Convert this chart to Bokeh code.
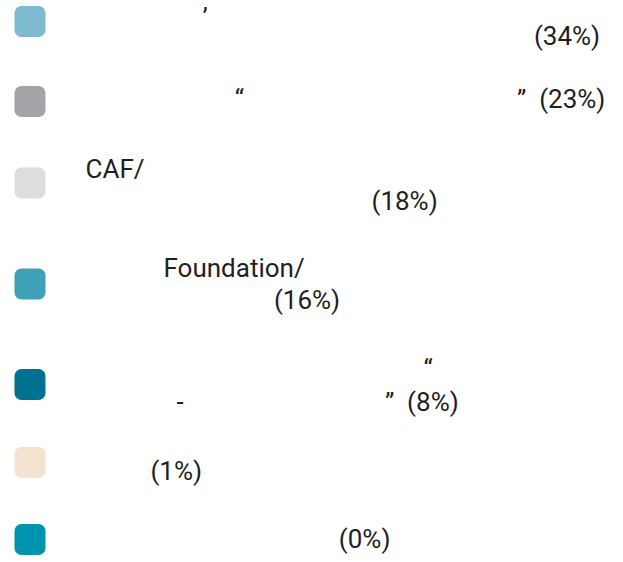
from bokeh.plotting import figure
from bokeh.models import ColumnDataSource, Range1d
from bokeh.core.properties import value
from bokeh.embed import file_html
from bokeh.resources import INLINE

IS = "\u3000"  # stands in for each Chinese character that the reference did not render
S = "\u00a0"   # non-collapsing space

# ---- data ----
names = [
    IS * 4 + S * 2 + "\u2019" + IS * 13 + "\n" + IS * 17 + S,
    IS * 5 + S * 3 + "\u201c" + IS * 10 + S * 2 + "\u201d" + S * 2,
    "CAF/" + IS * 14 + "\n" + IS * 11,
    IS * 3 + "Foundation/" + IS * 5 + "\n" + IS * 7 + S,
    IS * 13 + "\u201c" + IS * 4 + "\n" + IS * 3 + S * 2 + "-" + IS * 7 + S * 3 + "\u201d" + S * 2,
    IS * 2 + S * 2,
    IS * 9 + S * 3,
]
shares = [34, 23, 18, 16, 8, 1, 0]
colors = ["#7fbad0", "#a3a4a8", "#dcdddf", "#3fa0b8", "#007290", "#f5e3d1", "#0093ad"]

labels = [f"{n}({s}%)" for n, s in zip(names, shares)]
line_counts = [lab.count("\n") + 1 for lab in labels]

# ---- layout (styles) ----
W, H = 623, 562
line_px = [20, 33, 33, 33, 34, 33, 33]     # line spacing per legend entry (fallback fonts differ)
text_nudge = [3, -3, -1, -3, -3, -3, -3]   # fine vertical alignment of each text block
swatch_nudge = [1, 3, 0, 0, -1, -8, 1]     # fine vertical alignment of each swatch
LINE_H = 30        # height of one text line
GAP = 38           # gap between consecutive entries
FIRST = 23         # centre of the first entry's text block
heights = [LINE_H + (n - 1) * lp for n, lp in zip(line_counts, line_px)]
centres = [FIRST]
for h0, h1 in zip(heights[:-1], heights[1:]):
    centres.append(centres[-1] + (h0 + h1) / 2 + GAP)

src = ColumnDataSource(dict(
    ty=[c + d for c, d in zip(centres, text_nudge)],
    sy=[c - 3 + d for c, d in zip(centres, swatch_nudge)],
    sx=[29.5] * len(labels),
    tx=[85] * len(labels),
    lh=[lp / 31 for lp in line_px],
    label=labels,
    color=colors,
))

p = figure(width=W, height=H, output_backend="svg", toolbar_location=None,
           x_range=Range1d(0, W), y_range=Range1d(H, 0), min_border=0)
p.axis.visible = False
p.grid.visible = False
p.outline_line_color = None
p.background_fill_color = "white"
p.border_fill_color = "white"

p.rect(x="sx", y="sy", width=31, height=31, width_units="screen", height_units="screen",
       fill_color="color", line_color=None, border_radius=7, source=src)
p.text(x="tx", y="ty", text="label", source=src, text_font=value("Roboto"),
       text_font_size="26px", text_color="#1f1f1f", text_baseline="middle",
       text_align="left", text_line_height="lh")

open("out.html", "w").write(file_html(p, INLINE))
